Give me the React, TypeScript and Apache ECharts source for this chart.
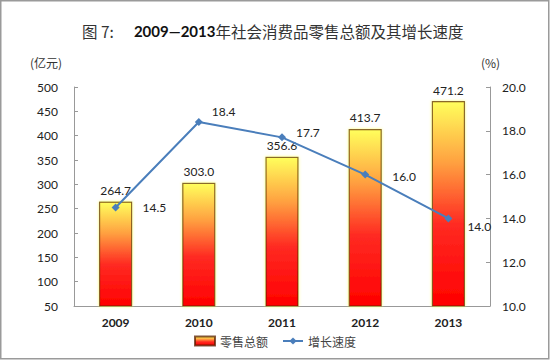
import React, { useEffect, useRef } from "react";
import * as echarts from "echarts";

const years = ["2009", "2010", "2011", "2012", "2013"];
const retailTotal = [264.7, 303.0, 356.6, 413.7, 471.2];
const growthRate = [14.5, 18.4, 17.7, 16.0, 14.0];
// per-point label placement for the growth line: [distance, offsetY]
const growthLabelPlace = [
  [23, 0],
  [9, -11],
  [10, -5],
  [23, 2],
  [15, 8],
];

const LATIN = "Lato, 'Open Sans', 'Noto Sans', sans-serif";
const CJK = "'Noto Sans CJK SC', 'Noto Sans', sans-serif";

export default function App() {
  const ref = useRef<HTMLDivElement>(null);
  useEffect(() => {
    document.body.style.margin = "0";
    const chart = echarts.init(ref.current!, null, { renderer: "svg" });
    const barFill = new echarts.graphic.LinearGradient(0, 0, 0, 1, [
      { offset: 0, color: "#ffff5c" },
      { offset: 0.3, color: "#ffa040" },
      { offset: 0.6, color: "#ff2a22" },
      { offset: 1, color: "#ff0000" },
    ]);
    chart.setOption({
      animation: false,
      backgroundColor: "#ffffff",
      title: {
        left: 77,
        top: 17,
        text: "{a|图 7:}    {b|2009—2013}{a|年社会消费品零售总额及其增长速度}",
        textStyle: {
          fontWeight: "normal",
          rich: {
            a: { fontFamily: CJK, fontSize: 15.5, fontWeight: "normal", color: "#333" },
            b: { fontFamily: LATIN, fontSize: 15, fontWeight: "bold", color: "#111" },
          },
        },
      },
      grid: { left: 74, right: 60, top: 87, bottom: 54 },
      legend: {
        bottom: 8,
        left: "center",
        itemGap: 14,
        itemWidth: 20,
        itemHeight: 9,
        textStyle: { fontFamily: CJK, fontSize: 12, color: "#444" },
        data: [
          { name: "零售总额", icon: "rect" },
          { name: "增长速度" },
        ],
      },
      graphic: [
        {
          type: "rect",
          shape: { x: 0.75, y: 0.75, width: 548, height: 358 },
          style: { fill: "none", stroke: "#9a9a9a", lineWidth: 1.5 },
          silent: true,
        },
        {
          type: "text",
          left: 30,
          top: 56,
          style: { text: "(亿元)", font: `12px ${CJK}`, fill: "#333" },
        },
        {
          type: "text",
          left: 481,
          top: 56,
          style: { text: "(%)", font: `12px ${CJK}`, fill: "#333" },
        },
      ],
      xAxis: {
        type: "category",
        data: years,
        axisLine: { lineStyle: { color: "#999" } },
        axisTick: { inside: true, length: 5, lineStyle: { color: "#999" } },
        axisLabel: { fontFamily: LATIN, fontSize: 12, fontWeight: "bold", color: "#222", margin: 10 },
      },
      yAxis: [
        {
          type: "value",
          min: 50,
          max: 500,
          interval: 50,
          splitLine: { show: false },
          axisLine: { show: true, lineStyle: { color: "#999" } },
          axisTick: { show: true, inside: true, length: 4, lineStyle: { color: "#999" } },
          axisLabel: { fontFamily: LATIN, fontSize: 12, color: "#222", margin: 16 },
        },
        {
          type: "value",
          min: 10,
          max: 20,
          interval: 2,
          position: "right",
          splitLine: { show: false },
          axisLine: { show: true, lineStyle: { color: "#999" } },
          axisTick: { show: true, inside: true, length: 4, lineStyle: { color: "#999" } },
          axisLabel: {
            fontFamily: LATIN,
            fontSize: 12,
            color: "#222",
            margin: 12,
            formatter: (v: number) => v.toFixed(1),
          },
        },
      ],
      series: [
        {
          name: "零售总额",
          type: "bar",
          yAxisIndex: 0,
          barWidth: "40%",
          data: retailTotal,
          itemStyle: {
            color: barFill,
            borderColor: "rgba(90,30,0,0.75)",
            borderWidth: 1.2,
            shadowColor: "rgba(255,255,90,0.9)",
            shadowBlur: 3,
          },
          label: {
            show: true,
            position: "top",
            distance: 5,
            fontFamily: LATIN,
            fontSize: 12,
            color: "#222",
            formatter: (p: any) => Number(p.value).toFixed(1),
          },
        },
        {
          name: "增长速度",
          type: "line",
          yAxisIndex: 1,
          data: growthRate.map((v, i) => ({
            value: v,
            label: {
              position: "right",
              distance: growthLabelPlace[i][0],
              offset: [0, growthLabelPlace[i][1]],
            },
          })),
          symbol: "diamond",
          symbolSize: 8,
          lineStyle: { color: "#4a7ebb", width: 2 },
          itemStyle: { color: "#4a7ebb" },
          label: {
            show: true,
            fontFamily: LATIN,
            fontSize: 12,
            color: "#222",
            formatter: (p: any) => Number(p.value).toFixed(1),
          },
          z: 3,
        },
      ],
    });
    return () => chart.dispose();
  }, []);
  return (
    <div
      ref={ref}
      style={{ position: "absolute", left: 0, top: 0, width: 550, height: 360 }}
    />
  );
}
